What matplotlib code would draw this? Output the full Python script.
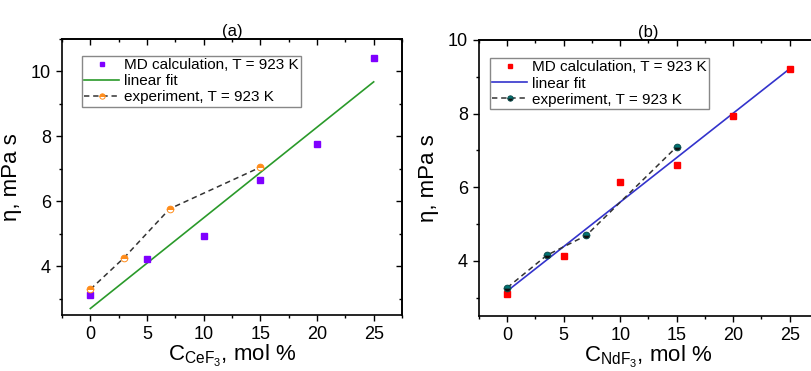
import matplotlib
matplotlib.use('Agg')
import matplotlib.pyplot as plt
from matplotlib.ticker import MultipleLocator

plt.rcParams['font.family'] = ['Liberation Sans', 'DejaVu Sans']
plt.rcParams['mathtext.fontset'] = 'custom'
plt.rcParams['mathtext.rm'] = 'Liberation Sans'

# panel (a): CeF3
md_x_a = [0, 5, 10, 15, 20, 25]
md_y_a = [3.11, 4.22, 4.93, 6.65, 7.76, 10.43]
fit_x_a = [0, 25]
fit_y_a = [2.70, 9.68]
exp_x_a = [0, 3, 7, 15]
exp_y_a = [3.29, 4.27, 5.77, 7.05]

# panel (b): NdF3
md_x_b = [0, 5, 10, 15, 20, 25]
md_y_b = [3.09, 4.13, 6.15, 6.60, 7.94, 9.22]
fit_x_b = [0, 25]
fit_y_b = [3.18, 9.22]
exp_x_b = [0, 3.5, 7, 15]
exp_y_b = [3.27, 4.15, 4.69, 7.10]

x_ticks = [0, 5, 10, 15, 20, 25]
y_ticks = [4, 6, 8, 10]

W, H = 811, 371
fig = plt.figure(figsize=(W / 100, H / 100), dpi=100)


def panel(rect, title, xlabel, ylim, md, fit, exp, colors):
    ax = fig.add_axes(rect)
    c_md, c_fit, c_face, c_alt, c_edge = colors
    ax.plot(md[0], md[1], 's', color=c_md, ms=4.4, ls='none',
            label='MD calculation, T = 923 K', zorder=3)
    ax.plot(fit[0], fit[1], '-', color=c_fit, lw=1.2, label='linear fit', zorder=2)
    ax.plot(exp[0], exp[1], '--', color='#333333', lw=1.1, dashes=(3.5, 2.5),
            marker='o', ms=4.8, mfc=c_face, mfcalt=c_alt, mec=c_edge,
            fillstyle='top', mew=0.7, label='experiment, T = 923 K', zorder=4)
    ax.set_xlim(-2.5, 27.5)
    ax.set_ylim(*ylim)
    ax.set_xticks(x_ticks)
    ax.set_yticks(y_ticks)
    ax.xaxis.set_minor_locator(MultipleLocator(2.5))
    ax.yaxis.set_minor_locator(MultipleLocator(1))
    ax.tick_params(which='both', direction='out', labelsize=13, width=1)
    ax.tick_params(which='major', length=4.5)
    ax.tick_params(which='minor', length=2.5)

    # top and right ticks point inward
    top = ax.secondary_xaxis('top')
    top.set_xticks(x_ticks)
    top.xaxis.set_minor_locator(MultipleLocator(2.5))
    right = ax.secondary_yaxis('right')
    right.set_yticks(y_ticks)
    right.yaxis.set_minor_locator(MultipleLocator(1))
    for sec in (top, right):
        sec.tick_params(which='both', direction='in', width=1,
                        labeltop=False, labelright=False)
        sec.tick_params(which='major', length=4.5)
        sec.tick_params(which='minor', length=2.5)
        for s in sec.spines.values():
            s.set_linewidth(1.2)

    for s in ax.spines.values():
        s.set_linewidth(1.2)
    ax.set_title(title, fontsize=12, pad=1)
    ax.set_xlabel(xlabel, fontsize=16, labelpad=0)
    ax.set_ylabel('η, mPa s', fontsize=16, labelpad=6)
    return ax


ax1 = panel([62 / W, 1 - 315 / H, 340 / W, 276 / H], '(a)',
            r'C$_{\mathregular{CeF_3}}$, mol %', (2.5, 11),
            (md_x_a, md_y_a), (fit_x_a, fit_y_a), (exp_x_a, exp_y_a),
            ('#7f00ff', '#2a9a2a', '#ff8c1a', 'white', '#ff8c1a'))
ax1.legend(loc='upper left', bbox_to_anchor=(0.058, 0.94), fontsize=11,
           handlelength=2.3, borderpad=0.15, labelspacing=0.15,
           handletextpad=0.3, fancybox=False, framealpha=1,
           edgecolor='#888888', borderaxespad=0, markerscale=0.8)

ax2 = panel([479 / W, 1 - 316 / H, 339 / W, 276 / H], '(b)',
            r'C$_{\mathregular{NdF_3}}$, mol %', (2.5, 10),
            (md_x_b, md_y_b), (fit_x_b, fit_y_b), (exp_x_b, exp_y_b),
            ('#ff0000', '#3333cc', '#007373', '#111111', '#0b4d4d'))
ax2.legend(loc='upper left', bbox_to_anchor=(0.032, 0.935), fontsize=11,
           handlelength=2.3, borderpad=0.15, labelspacing=0.15,
           handletextpad=0.3, fancybox=False, framealpha=1,
           edgecolor='#888888', borderaxespad=0, markerscale=0.8)

fig.savefig('out.png', dpi=100)
